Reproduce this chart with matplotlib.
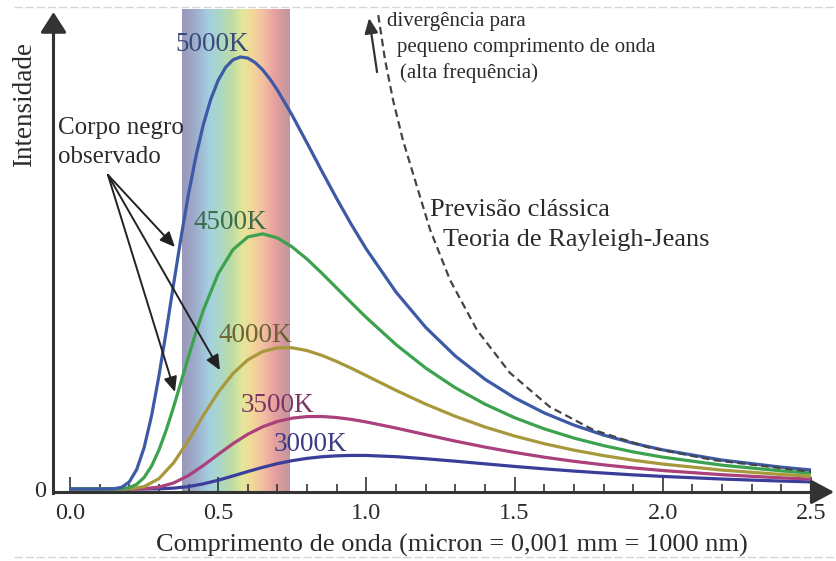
import matplotlib
matplotlib.use("Agg")
import matplotlib.pyplot as plt
import numpy as np
from matplotlib.colors import LinearSegmentedColormap
from matplotlib.ticker import FixedLocator

plt.rcParams['font.family'] = ['Liberation Serif', 'DejaVu Serif']

# ---------------- data (intensity relative to 5000K peak) -------------
lam_5000 = [0.0, 0.1, 0.15, 0.175, 0.2, 0.225, 0.25, 0.275, 0.3, 0.325, 0.35, 0.375, 0.4, 0.425,
            0.45, 0.475, 0.5, 0.525, 0.55, 0.575, 0.6, 0.625, 0.65, 0.675, 0.7, 0.75, 0.8, 0.85,
            0.9, 0.95, 1.0, 1.1, 1.2, 1.3, 1.4, 1.5, 1.6, 1.7, 1.8, 1.9, 2.0, 2.2, 2.4, 2.5]
int_5000 = [0, 0, 0.0006, 0.0041, 0.0164, 0.0451, 0.0956, 0.1690, 0.2615, 0.3666, 0.4765, 0.5839,
            0.6833, 0.7708, 0.8440, 0.9024, 0.9461, 0.9761, 0.9936, 1.0000, 0.9974, 0.9869, 0.9702,
            0.9486, 0.9231, 0.8645, 0.8005, 0.7353, 0.6718, 0.6113, 0.5550, 0.4558, 0.3741, 0.3077,
            0.2541, 0.2110, 0.1761, 0.1479, 0.1248, 0.1060, 0.0905, 0.0669, 0.0505, 0.0441]

lam_4500 = [0.0, 0.1, 0.15, 0.175, 0.2, 0.225, 0.25, 0.275, 0.3, 0.325, 0.35, 0.375, 0.4, 0.425,
            0.45, 0.5, 0.55, 0.6, 0.65, 0.7, 0.75, 0.8, 0.85, 0.9, 0.95, 1.0, 1.1, 1.2, 1.3, 1.4,
            1.5, 1.6, 1.7, 1.8, 1.9, 2.0, 2.2, 2.4, 2.5]
int_4500 = [0, 0, 0, 0.0007, 0.0033, 0.0109, 0.0266, 0.0528, 0.0901, 0.1371, 0.1911, 0.2489,
            0.3071, 0.3630, 0.4144, 0.4984, 0.5542, 0.5834, 0.5906, 0.5811, 0.5601, 0.5319, 0.4993,
            0.4650, 0.4304, 0.3967, 0.3342, 0.2800, 0.2343, 0.1964, 0.1650, 0.1392, 0.1179, 0.1004,
            0.0858, 0.0737, 0.0551, 0.0419, 0.0368]

lam_common = [0.0, 0.1, 0.15, 0.2, 0.25, 0.3, 0.35, 0.4, 0.45, 0.5, 0.55, 0.6, 0.65, 0.7, 0.75,
              0.8, 0.85, 0.9, 0.95, 1.0, 1.1, 1.2, 1.3, 1.4, 1.5, 1.6, 1.7, 1.8, 1.9, 2.0, 2.2,
              2.4, 2.5]
int_4000 = [0, 0, 0, 0.0005, 0.0054, 0.0238, 0.0610, 0.1130, 0.1704, 0.2239, 0.2676, 0.2990,
            0.3182, 0.3268, 0.3268, 0.3203, 0.3092, 0.2951, 0.2792, 0.2623, 0.2283, 0.1965,
            0.1682, 0.1435, 0.1226, 0.1048, 0.0899, 0.0773, 0.0666, 0.0577, 0.0437, 0.0336, 0.0296]
int_3500 = [0, 0, 0, 0, 0.0007, 0.0043, 0.0141, 0.0313, 0.0544, 0.0801, 0.1050, 0.1268, 0.1440,
            0.1564, 0.1640, 0.1676, 0.1678, 0.1654, 0.1610, 0.1551, 0.1410, 0.1258, 0.1108,
            0.0970, 0.0846, 0.0736, 0.0641, 0.0559, 0.0488, 0.0427, 0.0330, 0.0257, 0.0228]
int_3000 = [0, 0, 0, 0, 0, 0.0004, 0.0020, 0.0056, 0.0119, 0.0203, 0.0302, 0.0404, 0.0501,
            0.0587, 0.0656, 0.0709, 0.0746, 0.0768, 0.0777, 0.0776, 0.0748, 0.0700, 0.0643,
            0.0582, 0.0522, 0.0466, 0.0415, 0.0369, 0.0327, 0.0291, 0.0230, 0.0183, 0.0164]

# classical (Rayleigh-Jeans) prediction, dashed
lam_rj = [1.04, 1.063, 1.09, 1.123, 1.164, 1.215, 1.282, 1.373, 1.484, 1.619, 1.765, 1.947, 2.17, 2.5]
int_rj = [1.097, 0.993, 0.900, 0.808, 0.715, 0.600, 0.484, 0.368, 0.269, 0.190, 0.137, 0.097, 0.067, 0.040]

temp_labels = ['5000K', '4500K', '4000K', '3500K', '3000K']
label_pos_x = [0.479, 0.540, 0.624, 0.698, 0.810]
label_pos_y = [1.028, 0.618, 0.356, 0.194, 0.102]

xtick_vals = [0.0, 0.5, 1.0, 1.5, 2.0, 2.5]
xtick_labels = ['0.0', '0.5', '1.0', '1.5', '2.0', '2.5']
xminor_vals = [i / 10 for i in range(0, 26)]

visible_band = [0.378, 0.742]

# ---------------- styles ----------------
curve_colors = {'5000K': '#3d5aa6', '4500K': '#3ca24e', '4000K': '#a8983c',
                '3500K': '#aa417c', '3000K': '#3b3d9a'}
label_colors = {'5000K': '#3b4a7c', '4500K': '#3a6c4c', '4000K': '#6c6232',
                '3500K': '#7c3464', '3000K': '#3c3c86'}
txt = '#2b2b2b'
axc = '#333333'

fig = plt.figure(figsize=(8.36, 5.61), dpi=100)
ax = fig.add_axes([0, 0, 1, 1])
ax.set_xlim(-0.2362, 2.5844)
ax.set_ylim(-0.1667, 1.1319)
ax.patch.set_alpha(0)
fig.patch.set_facecolor('white')

y_axis_x = -0.0557
x_axis_y = -0.007

# visible spectrum band
spec_colors = [(0.00, '#9a98b8'), (0.12, '#9eaccc'), (0.25, '#a4d0e0'), (0.36, '#acd8c4'),
               (0.46, '#bcdca4'), (0.56, '#e4e69c'), (0.65, '#f2d898'), (0.75, '#f2c0a0'),
               (0.86, '#e8a0a0'), (1.00, '#c0969c')]
cmap = LinearSegmentedColormap.from_list('spec', spec_colors)
grad = np.linspace(0, 1, 256).reshape(1, -1)
ax.imshow(grad, extent=[visible_band[0], visible_band[1], x_axis_y, 1.109], aspect='auto',
          cmap=cmap, zorder=0, interpolation='bilinear')

# curves
series = [('3000K', lam_common, int_3000), ('3500K', lam_common, int_3500),
          ('4000K', lam_common, int_4000), ('4500K', lam_4500, int_4500),
          ('5000K', lam_5000, int_5000)]
for name, lx, ly in series:
    ax.plot(lx, ly, color=curve_colors[name], lw=2.3, solid_capstyle='butt',
            solid_joinstyle='round', zorder=3)

ax.plot(lam_rj, int_rj, color='#444444', lw=1.6, ls=(0, (3.4, 2.0)), zorder=4)

for t, x, y in zip(temp_labels, label_pos_x, label_pos_y):
    ax.text(x, y, t, color=label_colors[t], fontsize=19.5, ha='center', va='center', zorder=5)

# axes
for s in ['top', 'right']:
    ax.spines[s].set_visible(False)
ax.spines['bottom'].set_position(('data', x_axis_y))
ax.spines['left'].set_position(('data', y_axis_x))
ax.spines['bottom'].set_bounds(y_axis_x, 2.55)
ax.spines['left'].set_bounds(x_axis_y - 0.003, 1.07)
for s in ['bottom', 'left']:
    ax.spines[s].set_color(axc)
    ax.spines[s].set_linewidth(2.2)
    ax.spines[s].set_zorder(6)

ax.set_xticks(xtick_vals)
ax.set_xticklabels(xtick_labels)
ax.xaxis.set_minor_locator(FixedLocator(xminor_vals))
ax.tick_params(axis='x', which='major', direction='in', length=10.5, width=1.2, color=axc,
               labelsize=17.5, labelcolor=txt, pad=8)
ax.tick_params(axis='x', which='minor', direction='in', length=5.5, width=1.2, color=axc)
ax.set_yticks([0])
ax.set_yticklabels(['0'])
ax.yaxis.set_minor_locator(FixedLocator([]))
ax.tick_params(axis='y', which='major', length=0, labelsize=17.5, labelcolor=txt, pad=5)

ax.annotate('', xy=(2.578, x_axis_y), xytext=(2.50, x_axis_y),
            arrowprops=dict(arrowstyle='-|>,head_length=1.4,head_width=0.75', lw=2.2,
                            color=axc, shrinkA=0, shrinkB=0, mutation_scale=10),
            annotation_clip=False, zorder=6)
ax.annotate('', xy=(y_axis_x, 1.104), xytext=(y_axis_x, 1.03),
            arrowprops=dict(arrowstyle='-|>,head_length=1.25,head_width=0.8', lw=2.2,
                            color=axc, shrinkA=0, shrinkB=0, mutation_scale=10),
            annotation_clip=False, zorder=6)

# labels
ax.text(1.289, -0.1296, 'Comprimento de onda (micron = 0,001 mm = 1000 nm)', fontsize=19,
        color=txt, ha='center', va='center')
ax.text(-0.152, 0.891, 'Intensidade', fontsize=19.5, color=txt, rotation=90,
        ha='center', va='center')

# annotations
ax.text(-0.0405, 0.8356, 'Corpo negro', fontsize=18, color=txt, ha='left', va='center', zorder=5)
ax.text(-0.0405, 0.7685, 'observado', fontsize=18, color=txt, ha='left', va='center', zorder=5)
for tip in [(0.354, 0.560), (0.506, 0.275), (0.354, 0.2245)]:
    ax.annotate('', xy=tip, xytext=(0.128, 0.727),
                arrowprops=dict(arrowstyle='-|>,head_length=0.9,head_width=0.4', lw=1.4,
                                color='#222222', shrinkA=0, shrinkB=0, mutation_scale=10),
                zorder=5)

ax.annotate('', xy=(1.009, 1.090), xytext=(1.036, 0.965),
            arrowprops=dict(arrowstyle='-|>,head_length=0.9,head_width=0.4', lw=1.6,
                            color='#333333', shrinkA=0, shrinkB=0, mutation_scale=10),
            zorder=5)
ax.text(1.0695, 1.081, 'divergência para', fontsize=15, color=txt, ha='left', va='center')
ax.text(1.103, 1.021, 'pequeno comprimento de onda', fontsize=15, color=txt, ha='left', va='center')
ax.text(1.113, 0.963, '(alta frequência)', fontsize=15, color=txt, ha='left', va='center')

ax.text(1.2146, 0.646, 'Previsão clássica', fontsize=19, color=txt, ha='left', va='center')
ax.text(1.258, 0.576, 'Teoria de Rayleigh-Jeans', fontsize=19, color=txt, ha='left', va='center')

# faint page border lines
ax.plot([-0.19, 2.584], [1.116, 1.116], color='#d6d6d6', lw=1.0, ls=(0, (6, 2)), zorder=1,
        clip_on=False)
ax.plot([-0.19, 2.584], [-0.157, -0.157], color='#d6d6d6', lw=1.0, ls=(0, (6, 2)), zorder=1,
        clip_on=False)

fig.savefig('out.png', dpi=100)
